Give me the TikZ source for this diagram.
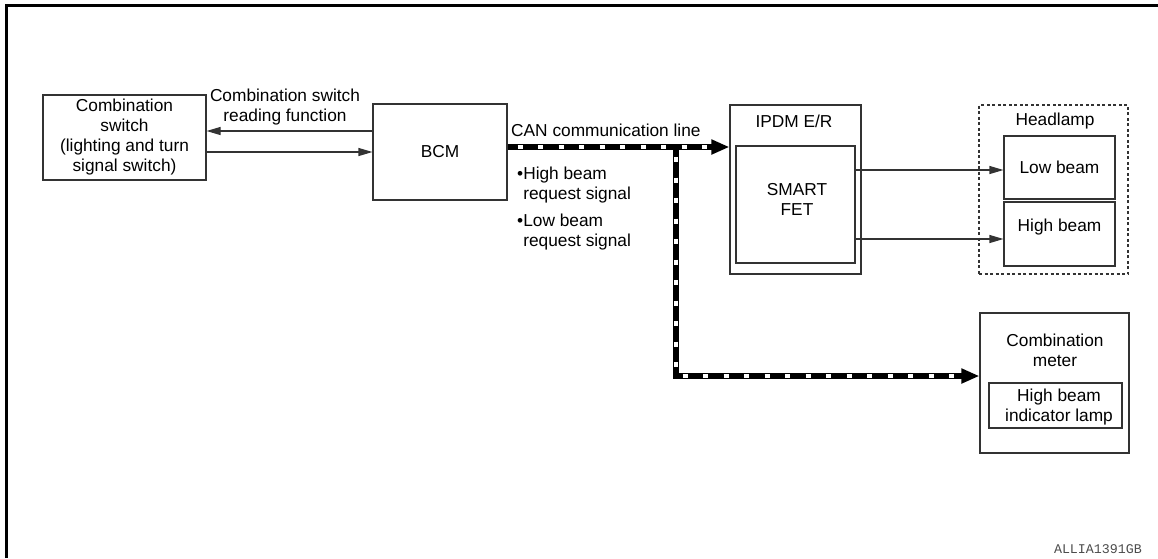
\documentclass[tikz,border=0pt]{standalone}
\usepackage{fontspec}
\setmainfont{Liberation Sans}
\setmonofont{Liberation Mono}
\usetikzlibrary{arrows.meta}
\begin{document}
\begin{tikzpicture}[x=1pt,y=-1pt,
  box/.style={draw=black!80, line width=1.1pt, inner sep=0pt},
  txt/.style={font=\fontsize{17.3}{20}\selectfont, align=center, inner sep=0pt},
  thinarrow/.style={draw=black!80, line width=1.1pt, -{Triangle[length=14pt,width=8pt]}},
  canline/.style={draw=black, line width=6.5pt, -{Triangle[length=18pt,width=14pt]},
    postaction={draw=white, line width=4pt, -, dash pattern=on 5pt off 15.5pt, dash phase=-10pt, shorten >=20pt}}]
\useasboundingbox (0,0) rectangle (1158,558);
\draw[line width=3pt] (6.3,558) -- (6.3,5.5) -- (1158,5.5);

% boxes
\node[box, minimum width=163pt, minimum height=85pt, txt] (cs) at (124.5,137.5)
  {Combination\\switch\\(lighting and turn\\signal switch)};
\node[box, minimum width=134pt, minimum height=96pt, txt] (bcm) at (440,152) {BCM};
\node[box, minimum width=131pt, minimum height=169pt] (ipdm) at (795.5,189.5) {};
\node[box, minimum width=119pt, minimum height=117pt] (fet) at (795.5,204.5) {};
\node[txt] (ipdmt) at (794,121) {IPDM E/R};
\node[txt] (fett) at (797,199) {SMART\\FET};

\node[box, dashed, dash pattern=on 3pt off 2.5pt, minimum width=149pt, minimum height=169pt] (head) at (1053.5,189.5) {};
\node[txt] (headt) at (1055,121) {Headlamp};
\node[box, minimum width=111pt, minimum height=63pt, txt] (low) at (1059.5,167.5) {Low beam};
\node[box, minimum width=111pt, minimum height=64pt] (high) at (1059.5,234) {};
\node[txt] (hight) at (1059.5,227) {High beam};

\node[box, minimum width=149pt, minimum height=140pt] (meter) at (1054.5,383) {};
\node[txt] (metert) at (1055,350) {Combination\\meter};
\node[box, minimum width=133pt, minimum height=45pt] (ind) at (1055.5,405.5) {};
\node[txt] (indt) at (1059,407) {High beam\\indicator lamp};

% labels
\node[txt] (readl) at (285,107) {Combination switch\\reading function};
\node[txt, anchor=west] (canl) at (511,130) {CAN communication line};
\node[txt, align=left, anchor=west] (hbl) at (517,185.5) {•High beam\\\phantom{•}request signal};
\node[txt, align=left, anchor=west] (lbl) at (517,232) {•Low beam\\\phantom{•}request signal};
\node[font=\fontsize{13.3}{15}\ttfamily, text=black!70, inner sep=0pt, anchor=east] (code) at (1142,549) {ALLIA1391GB};

% connectors
\draw[thinarrow] (bcm.west |- 0,131) -- (cs.east |- 0,131);
\draw[thinarrow] (cs.east |- 0,152) -- (bcm.west |- 0,152);
\draw[thinarrow] (fet.east |- 0,170) -- (low.west |- 0,170);
\draw[thinarrow] (fet.east |- 0,239) -- (high.west |- 0,239);

\coordinate (branch) at (676,147);
\draw[canline] (branch) |- (meter.west |- 0,376);
\draw[canline] (bcm.east |- 0,147) -- (ipdm.west |- 0,147);
\end{tikzpicture}
\end{document}
